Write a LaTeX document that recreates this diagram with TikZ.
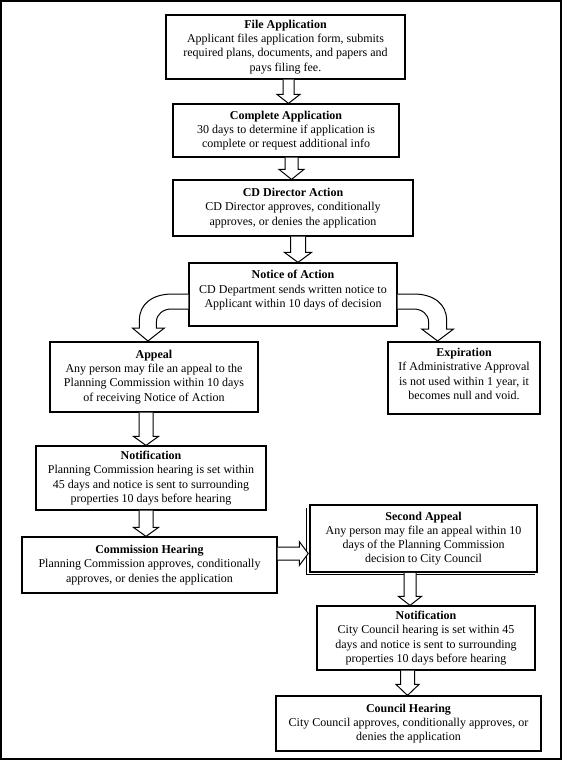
\documentclass[tikz,border=0pt]{standalone}
\usepackage{fontspec}
\setmainfont{Liberation Serif}
\usetikzlibrary{calc}
\tikzset{
  box/.style={draw=black, line width=1.2pt, fill=white, inner sep=0pt, align=center,
    font=\fontsize{12}{14.2}\selectfont},
  blk/.style={draw=black, line width=1pt, fill=white, line join=miter},
  frame/.style={draw=black, line width=2pt},
}
% #1 from node, #2 to node, #3 centre x, #4 half shaft, #5 half head, #6 head length
\newcommand{\blkdown}[6]{%
  \draw[blk] let \p1=(#1.south), \p2=(#2.north) in
    (#3pt-#4pt,\y1) -- (#3pt-#4pt,\y2+#6pt) -- (#3pt-#5pt,\y2+#6pt) -- (#3pt,\y2)
    -- (#3pt+#5pt,\y2+#6pt) -- (#3pt+#4pt,\y2+#6pt) -- (#3pt+#4pt,\y1);}
\begin{document}
\begin{tikzpicture}[x=1pt,y=-1pt]
\useasboundingbox (0,0) rectangle (562,761);
\draw[frame] (1,1) rectangle (560.5,759);

\node[box, minimum width=239pt, minimum height=64pt] (file) at (285.5,47)
  {\bfseries File Application\\Applicant files application form, submits\\required plans, documents, and papers and\\pays filing fee.};
\node[box, minimum width=226pt, minimum height=53pt] (complete) at (286,130.5)
  {\bfseries Complete Application\\30 days to determine if application is\\complete or request additional info};
\node[box, minimum width=240pt, minimum height=56pt] (director) at (293,208)
  {\bfseries CD Director Action\\CD Director approves, conditionally\\approves, or denies the application};
\node[box, minimum width=208pt, minimum height=63pt] (notice) at (293,294.5)
  {\bfseries Notice of Action\\CD Department sends written notice to\\Applicant within 10 days of decision\\[-3pt]};
\node[box, minimum width=208pt, minimum height=70pt] (appeal) at (154,377)
  {\bfseries Appeal\\Any person may file an appeal to the\\Planning Commission within 10 days\\of receiving Notice of Action};
\node[box, minimum width=152pt, minimum height=72pt] (expire) at (464,378)
  {\bfseries Expiration\\If Administrative Approval\\is not used within 1 year, it\\becomes null and void.\\[-6pt]};
\node[box, minimum width=230pt, minimum height=64pt] (notif1) at (151,478)
  {\bfseries Notification\\Planning Commission hearing is set within\\45 days and notice is sent to surrounding\\properties 10 days before hearing};
\node[box, minimum width=255pt, minimum height=56pt] (commission) at (149.5,565)
  {\bfseries Commission Hearing\\Planning Commission approves, conditionally\\approves, or denies the application};
\node[box, line width=1.5pt, minimum width=227pt, minimum height=67pt] (second) at (423.5,538.5)
  {\bfseries Second Appeal\\Any person may file an appeal within 10\\days of the Planning Commission\\decision to City Council};
\draw[line width=1.2pt] ([xshift=-2.5pt,yshift=-4pt]second.north west)
  -- ([xshift=-2.5pt,yshift=-2pt]second.south west)
  -- ([xshift=-2.5pt,yshift=-2pt]second.south east);
\node[box, minimum width=218pt, minimum height=64pt] (notif2) at (426,638)
  {\bfseries Notification\\City Council hearing is set within 45\\days and notice is sent to surrounding\\properties 10 days before hearing};
\node[box, minimum width=265pt, minimum height=55pt] (council) at (408.5,723.5)
  {\bfseries Council Hearing\\City Council approves, conditionally approves, or\\denies the application};

% straight block arrows
\blkdown{file}{complete}{288.5}{5.5}{11.5}{9}
\blkdown{complete}{director}{291.5}{6.5}{12.5}{10}
\blkdown{director}{notice}{298}{7.5}{13.5}{10}
\blkdown{appeal}{notif1}{146}{7}{12.5}{9}
\blkdown{notif1}{commission}{146}{7}{12.5}{9}
\blkdown{second}{notif2}{410}{6}{11.5}{9}
\blkdown{notif2}{council}{407.5}{7}{11.5}{11}

% right block arrow
\draw[blk] let \p1=(commission.east), \p2=(second.west) in
  (\x1,-547pt) -- (\x2-10pt,-547pt) -- (\x2-10pt,-541.5pt) -- (\x2-1pt,-553.5pt)
  -- (\x2-10pt,-565.5pt) -- (\x2-10pt,-560pt) -- (\x1,-560pt);

% curved block arrows
\draw[blk] ([yshift=0.5pt]notice.west) -- ++(-16,0)
  .. controls +(-20,0) and +(0,-16) .. ++(-33,26) -- ++(0,8) -- ++(-7,0)
  -- ++(15.5,13) -- ++(16.5,-13) -- ++(-8,0) -- ++(0,-6)
  .. controls +(0,-8) and +(-8,0) .. ++(15,-13) -- ++(17,0);
\draw[blk] ([yshift=0.5pt]notice.east) -- ++(16,0)
  .. controls +(20,0) and +(0,-16) .. ++(33,26) -- ++(0,9) -- ++(7,0)
  -- ++(-16,12) -- ++(-16,-12) -- ++(7,0) -- ++(0,-7)
  .. controls +(0,-8) and +(8,0) .. ++(-15,-13) -- ++(-16,0);
\end{tikzpicture}
\end{document}
